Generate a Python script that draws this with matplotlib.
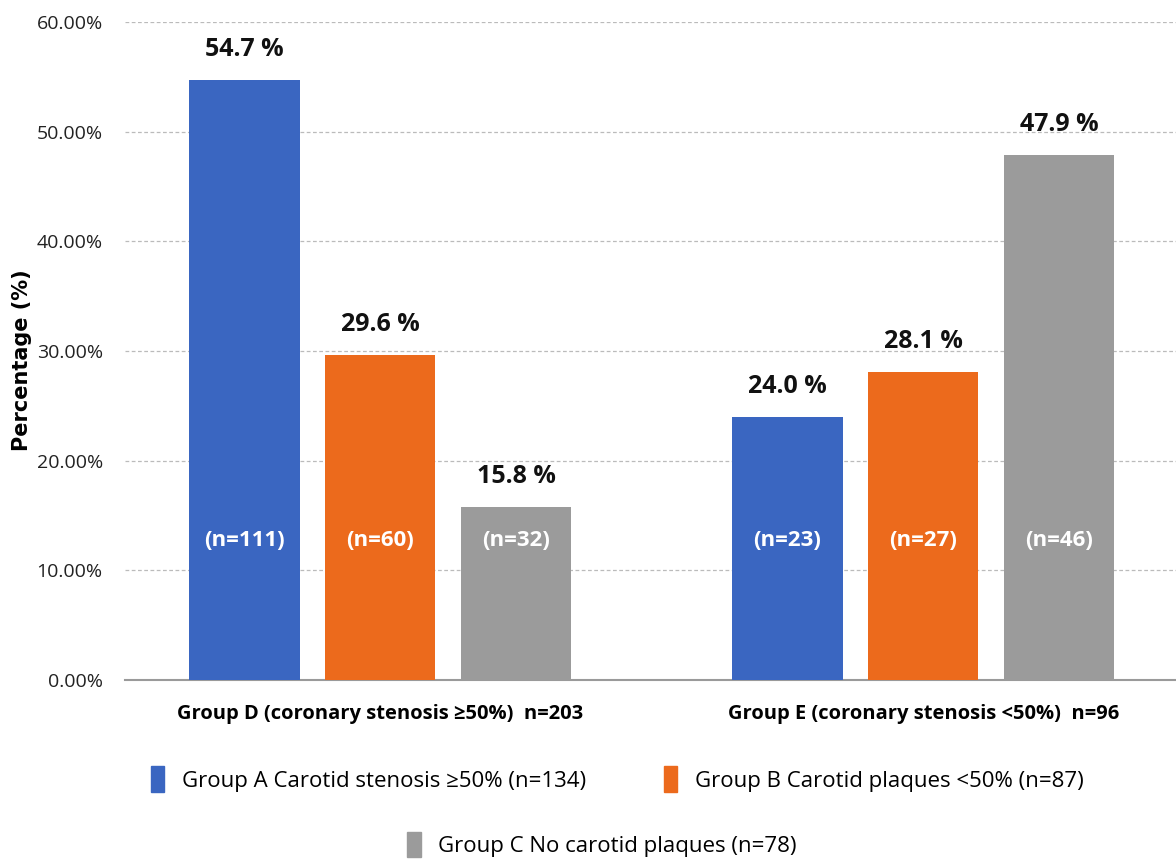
import matplotlib
matplotlib.use("Agg")
import matplotlib.pyplot as plt
from matplotlib import font_manager
from matplotlib.patches import Patch
from matplotlib.ticker import FuncFormatter
import numpy as np

# data
groups = ["Group D (coronary stenosis \u226550%)  n=203",
          "Group E (coronary stenosis <50%)  n=96"]
series_names = ["Group A Carotid stenosis \u226550% (n=134)",
                "Group B Carotid plaques <50% (n=87)",
                "Group C No carotid plaques (n=78)"]
pct_a = [54.7, 24.0]
pct_b = [29.6, 28.1]
pct_c = [15.8, 47.9]
n_a = [111, 23]
n_b = [60, 27]
n_c = [32, 46]
colors = ["#3A66C1", "#EC6A1C", "#9B9B9B"]

available = {f.name for f in font_manager.fontManager.ttflist}
fam = [f for f in ["Liberation Sans Narrow", "Open Sans", "DejaVu Sans"] if f in available]
plt.rcParams["font.family"] = fam + ["DejaVu Sans"]

fig = plt.figure(figsize=(11.76, 8.59), dpi=100)
ax = fig.add_axes([0.1063, 0.2084, 0.894, 0.766])

x = np.arange(len(groups))
width = 0.203
offset = 0.25
all_pct = [pct_a, pct_b, pct_c]
all_n = [n_a, n_b, n_c]

for i, (vals, ns, col) in enumerate(zip(all_pct, all_n, colors)):
    pos = x + (i - 1) * offset
    bars = ax.bar(pos, vals, width, color=col, zorder=3)
    for b, v, n in zip(bars, vals, ns):
        cx = b.get_x() + b.get_width() / 2
        ax.annotate(f"{v:.1f} %", (cx, v), textcoords="offset points",
                    xytext=(0, 13), ha="center", va="bottom",
                    fontsize=18, fontweight="bold", color="#111111")
        ax.text(cx, 12.7, f"(n={n})", ha="center", va="center",
                fontsize=16, fontweight="bold", color="white", zorder=4)

ax.set_xlim(-0.47, 1.466)
ax.set_ylim(0, 60)
ax.set_yticks(np.arange(0, 61, 10))
ax.yaxis.set_major_formatter(FuncFormatter(lambda v, p: f"{v:.2f}%"))
ax.grid(axis="y", linestyle=(0, (3, 2)), color="#BBBBBB", linewidth=0.9, zorder=0)
ax.set_xticks(x)
ax.set_xticklabels(groups, fontsize=14.5, fontweight="bold")
ax.tick_params(axis="both", length=0)
ax.tick_params(axis="y", labelsize=14, labelcolor="#222222", pad=16)
ax.tick_params(axis="x", pad=17)
for s in ["top", "right", "left"]:
    ax.spines[s].set_visible(False)
ax.spines["bottom"].set_color("#9A9A9A")
ax.spines["bottom"].set_linewidth(1.5)

fig.text(0.019, 0.581, "Percentage (%)", rotation=90, ha="center", va="center",
         fontsize=15, fontweight="bold", family="DejaVu Sans")

handles = [Patch(color=c) for c in colors]
fig.legend(handles[:2], series_names[:2], ncol=2, loc="center",
           bbox_to_anchor=(0.525, 0.093), frameon=False, fontsize=16,
           handlelength=0.6, handleheight=1.4, handletextpad=0.8,
           columnspacing=3.5)
fig.legend(handles[2:], series_names[2:], loc="center",
           bbox_to_anchor=(0.512, 0.017), frameon=False, fontsize=16,
           handlelength=0.6, handleheight=1.4, handletextpad=0.8)

fig.savefig("out.png", dpi=100)
